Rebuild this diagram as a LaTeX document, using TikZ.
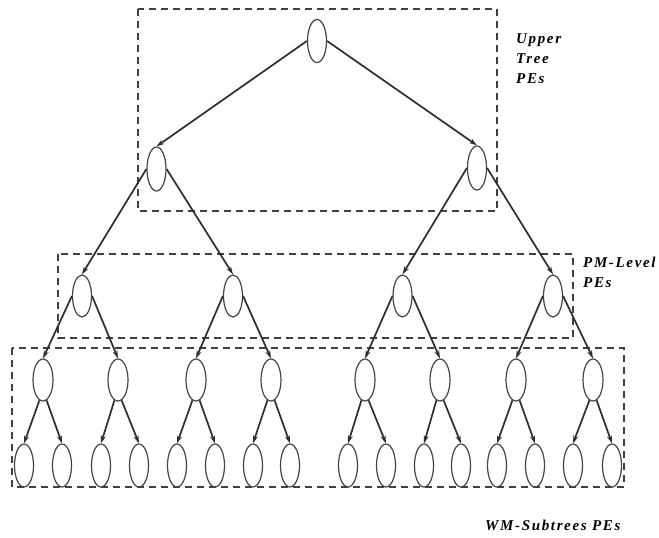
\documentclass[tikz,border=0pt]{standalone}
\usepackage{fontspec}
\usetikzlibrary{shapes.geometric,arrows.meta}
\newfontfamily\lblfont[LetterSpace=11]{Liberation Serif}
\definecolor{edgec}{HTML}{2E2E2E}
\definecolor{boxc}{HTML}{404040}
\definecolor{elc}{HTML}{454545}
\begin{document}
\begin{tikzpicture}[x=1pt,y=-1pt,
  pe/.style={ellipse,draw=elc,line width=1.2pt,minimum width=19pt,minimum height=42pt,inner sep=0pt},
  arr/.style={draw=edgec,line width=1.7pt,-{Stealth[length=8pt,width=5pt]}},
  grp/.style={draw=boxc,line width=1.5pt,dash pattern=on 7pt off 5pt},
  lbl/.style={anchor=base west,inner sep=0pt,text=black,font=\lblfont\bfseries\itshape\fontsize{15}{18}\selectfont}]
\fill[white] (0,0) rectangle (659,538);
\useasboundingbox (0,0) rectangle (659,538);
% boxes
\draw[grp] (138,9) rectangle (497,211);
\draw[grp] (58,254) rectangle (573,338);
\draw[grp] (12,348) rectangle (624,487);
% nodes
\node[pe,minimum height=43pt] (r) at (317,41) {};
\node[pe,minimum height=44pt] (a) at (156.5,169) {};
\node[pe,minimum height=44pt] (b) at (477,168) {};
\node[pe] (a1) at (82,296) {};
\node[pe] (a2) at (233,296) {};
\node[pe] (b1) at (402.5,296) {};
\node[pe] (b2) at (553,296) {};
\foreach \i/\x in {1/43,2/118,3/196,4/271,5/365,6/440,7/516,8/593}{
  \node[pe,minimum width=20pt] (m\i) at (\x,380) {};
}
\foreach \i/\x in {1/24,2/62,3/101,4/139,5/177,6/215,7/253,8/290,9/348,10/386,11/424,12/461,13/497,14/535,15/573,16/612}{
  \node[pe,minimum height=43pt] (l\i) at (\x,465.5) {};
}
% edges
\draw[arr] (r.west) -- (a.north);
\draw[arr] (r.east) -- (b.north);
\draw[arr] (a.west) -- (a1.north);
\draw[arr] (a.east) -- (a2.north);
\draw[arr] (b.west) -- (b1.north);
\draw[arr] (b.east) -- (b2.north);
\draw[arr] (a1.west) -- (m1.north);
\draw[arr] (a1.east) -- (m2.north);
\draw[arr] (a2.west) -- (m3.north);
\draw[arr] (a2.east) -- (m4.north);
\draw[arr] (b1.west) -- (m5.north);
\draw[arr] (b1.east) -- (m6.north);
\draw[arr] (b2.west) -- (m7.north);
\draw[arr] (b2.east) -- (m8.north);
\foreach \p/\c/\d in {1/1/2,2/3/4,3/5/6,4/7/8,5/9/10,6/11/12,7/13/14,8/15/16}{
  \draw[arr] (m\p.-100) -- (l\c.north);
  \draw[arr] (m\p.-80) -- (l\d.north);
}
% labels
\node[lbl] (t1) at (516,43) {Upper};
\node[lbl] (t2) at (516,63) {Tree};
\node[lbl] (t3) at (516,83) {PEs};
\node[lbl] (t4) at (583,267) {PM-Level};
\node[lbl] (t5) at (583,287) {PEs};
\node[lbl] (t6) at (485,530) {WM-Subtrees PEs};
\end{tikzpicture}
\end{document}
